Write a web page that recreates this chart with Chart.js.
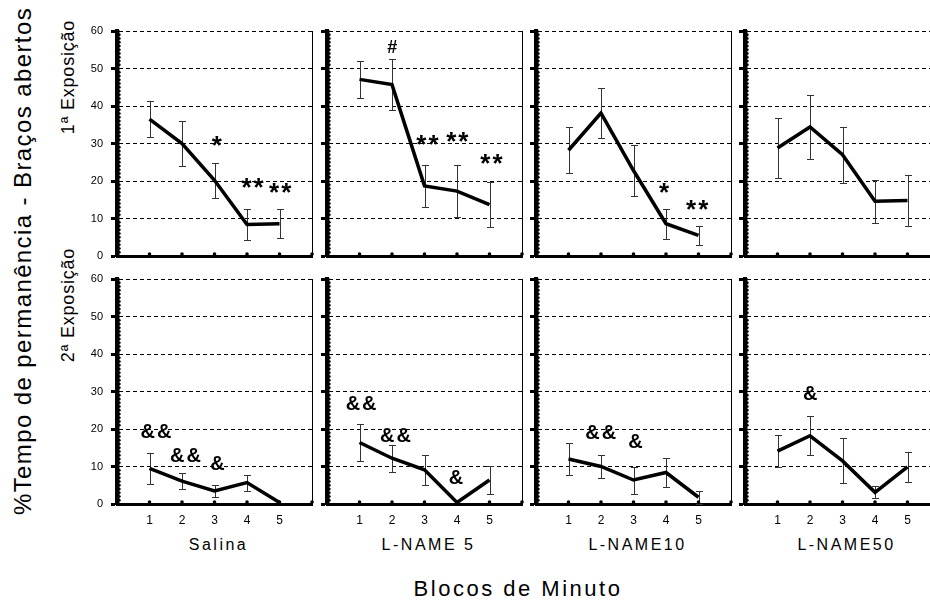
<!DOCTYPE html>
<html>
<head>
<meta charset="utf-8">
<script src="https://cdn.jsdelivr.net/npm/chart.js@4.4.1/dist/chart.umd.min.js"></script>
<style>
  html, body { margin: 0; padding: 0; background: #fff; width: 930px; height: 603px; overflow: hidden; position: relative; }
  canvas { position: absolute; }
  .lbl { position: absolute; font-family: "Liberation Sans", Arial, sans-serif; color: #000; white-space: nowrap; transform: translate(-50%, -50%); }
  .rot { transform: translate(-50%, -50%) rotate(-90deg); }
</style>
</head>
<body>
<div class="lbl rot" style="left:23px;top:261px;font-size:24px;letter-spacing:1.4px;">%Tempo de permanência - Braços abertos</div>
<div class="lbl rot" style="left:68px;top:77px;font-size:18px;letter-spacing:0.8px;">1ª Exposição</div>
<div class="lbl rot" style="left:68px;top:305px;font-size:18px;letter-spacing:0.8px;">2ª Exposição</div>
<div class="lbl" style="left:518px;top:589px;font-size:22px;letter-spacing:2.5px;">Blocos de Minuto</div>
<div id="groups"></div>

<script>
// minute blocks on the x axis
const blocks = [1, 2, 3, 4, 5];
const groups = ['Salina', 'L-NAME 5', 'L-NAME10', 'L-NAME50'];
const yTicks = [0, 10, 20, 30, 40, 50, 60];

// 1st exposure: mean and SEM per group
const exp1Mean = [
  [36.5, 30.0, 20.2, 8.4, 8.6],
  [47.1, 45.7, 18.7, 17.3, 13.7],
  [28.2, 38.1, 22.8, 8.6, 5.5],
  [28.8, 34.4, 27.0, 14.6, 14.8]
];
const exp1Sem = [
  [4.7, 6.0, 4.6, 4.2, 3.9],
  [4.9, 6.7, 5.5, 7.0, 6.0],
  [6.1, 6.7, 6.8, 4.0, 2.6],
  [8.1, 8.5, 7.5, 5.8, 6.9]
];

// 2nd exposure
const exp2Mean = [
  [9.5, 6.1, 3.5, 5.7, 0.4],
  [16.4, 12.2, 9.1, 0.4, 6.4],
  [12.0, 10.0, 6.4, 8.4, 1.8],
  [14.1, 18.2, 11.5, 3.1, 9.9]
];
const exp2Sem = [
  [4.2, 2.2, 1.5, 2.1, 0],
  [5.0, 3.6, 4.0, 0, 3.7],
  [4.3, 3.1, 3.6, 3.9, 1.8],
  [4.2, 5.2, 6.0, 1.6, 4.1]
];

// significance marks: [text, block, value]
const exp1Marks = [
  [['*', 3.1, 30.7], ['**', 4.2, 19.4], ['**', 5.05, 18.1]],
  [['#', 2.04, 55.8], ['**', 3.12, 30.9], ['**', 4.04, 31.8], ['**', 5.09, 26.0]],
  [['*', 3.97, 18.1], ['**', 4.99, 13.5]],
  []
];
const exp2Marks = [
  [['&&', 1.23, 19.5], ['&&', 2.14, 13.1], ['&', 3.12, 11.0]],
  [['&&', 1.08, 27.0], ['&&', 2.14, 18.3], ['&', 4.0, 7.3]],
  [['&&', 2.02, 19.2], ['&', 3.09, 16.8]],
  [['&', 2.04, 29.5]]
];

const FONT = '"Liberation Sans", Arial, sans-serif';
const panelLeft = [117, 327, 536, 745];
const rowTop = [31, 279];
const PW = 195, PH = 225, YW = 40, PT = 8, PR = 3;

const decor = {
  id: 'decor',
  beforeDatasetsDraw(chart, args, opts) {
    const { ctx, scales: { x, y } } = chart;
    const pts = chart.data.datasets[0].data;
    ctx.save();
    ctx.strokeStyle = '#333';
    ctx.lineWidth = 1;
    pts.forEach((p, i) => {
      const s = opts.sem[i];
      if (!s) return;
      const px = Math.round(x.getPixelForValue(p.x)) + 0.5;
      const t = Math.round(y.getPixelForValue(p.y + s)) + 0.5;
      const b = Math.round(y.getPixelForValue(Math.max(0, p.y - s))) + 0.5;
      ctx.beginPath();
      ctx.moveTo(px, t); ctx.lineTo(px, b);
      ctx.moveTo(px - 3.5, t); ctx.lineTo(px + 3.5, t);
      ctx.moveTo(px - 3.5, b); ctx.lineTo(px + 3.5, b);
      ctx.stroke();
    });
    ctx.restore();
  },
  afterDraw(chart, args, opts) {
    const { ctx, chartArea: a, scales: { x, y } } = chart;
    ctx.save();
    ctx.fillStyle = '#000';
    // thick y axis with minor dots
    ctx.fillRect(a.left - 2, a.top - 1, 4.5, a.bottom - a.top + 2);
    for (let v = 1; v < 60; v++) {
      if (v % 10 === 0) continue;
      ctx.beginPath();
      ctx.arc(a.left + 2.5, y.getPixelForValue(v), 1.2, 0, Math.PI * 2);
      ctx.fill();
    }
    // dots on the x axis
    for (let v = 1; v <= 6; v++) {
      ctx.beginPath();
      ctx.arc(x.getPixelForValue(v), a.bottom - 2, 1.8, 0, Math.PI * 2);
      ctx.fill();
    }
    // significance marks
    opts.marks.forEach(([txt, bx, vy]) => {
      const star = txt[0] === '*';
      ctx.font = 'bold ' + (star ? 26 : txt[0] === '#' ? 18 : 20) + 'px ' + FONT;
      ctx.letterSpacing = '2px';
      ctx.textAlign = 'center';
      ctx.textBaseline = 'alphabetic';
      const mt = ctx.measureText(txt);
      const cy = y.getPixelForValue(vy) + (mt.actualBoundingBoxAscent - mt.actualBoundingBoxDescent) / 2;
      ctx.fillText(txt, x.getPixelForValue(bx), cy);
    });
    ctx.restore();
  }
};

function makePanel(col, row) {
  const bottomRow = row === 1;
  const xh = bottomRow ? 32 : 4;
  const cv = document.createElement('canvas');
  cv.width = YW + PW + PR;
  cv.height = PT + PH + xh;
  cv.style.left = (panelLeft[col] - YW) + 'px';
  cv.style.top = (rowTop[row] - PT) + 'px';
  document.body.appendChild(cv);

  const mean = (row ? exp2Mean : exp1Mean)[col];
  const sem = (row ? exp2Sem : exp1Sem)[col];
  const marks = (row ? exp2Marks : exp1Marks)[col];

  new Chart(cv, {
    type: 'line',
    data: {
      datasets: [{
        data: blocks.map((b, i) => ({ x: b, y: mean[i] })),
        borderColor: '#000',
        borderWidth: 3.5,
        pointRadius: 0,
        tension: 0,
        fill: false
      }]
    },
    options: {
      responsive: false,
      animation: false,
      events: [],
      layout: { padding: { top: PT, right: PR, left: 0, bottom: 0 } },
      plugins: {
        legend: { display: false },
        tooltip: { enabled: false },
        decor: { sem: sem, marks: marks }
      },
      scales: {
        x: {
          type: 'linear',
          min: 0,
          max: 6,
          afterFit: s => { s.height = xh; s.paddingLeft = 0; s.paddingRight = 0; },
          grid: {
            color: c => (c.tick && c.tick.value === 6 && col < 3) ? '#000' : 'rgba(0,0,0,0)',
            lineWidth: 1,
            drawTicks: false
          },
          border: { color: '#000', width: 3 },
          ticks: {
            display: bottomRow,
            stepSize: 1,
            padding: 9,
            color: '#000',
            font: { family: FONT, size: 12 },
            callback: v => (v >= 1 && v <= 5) ? String(v) : ''
          }
        },
        y: {
          min: 0,
          max: 60,
          afterFit: s => { s.width = YW; s.paddingTop = 0; s.paddingBottom = 0; },
          afterBuildTicks: s => { s.ticks = yTicks.map(v => ({ value: v })); },
          grid: {
            color: c => (c.tick && c.tick.value === 0) ? 'rgba(0,0,0,0)' : '#000',
            lineWidth: 1,
            tickLength: 6,
            tickWidth: 3,
            tickColor: '#000'
          },
          border: { color: '#000', width: 4, dash: [4, 3] },
          ticks: {
            display: col === 0,
            padding: 8,
            color: '#000',
            font: { family: FONT, size: 11 }
          }
        }
      }
    },
    plugins: [decor]
  });
}

for (let r = 0; r < 2; r++) {
  for (let c = 0; c < 4; c++) makePanel(c, r);
}

// group names under the bottom row
const gbox = document.getElementById('groups');
groups.forEach((g, i) => {
  const d = document.createElement('div');
  d.className = 'lbl';
  d.style.left = (panelLeft[i] + 3 * PW / 6 + 4) + 'px';
  d.style.top = '545px';
  d.style.fontSize = '16px';
  d.style.letterSpacing = '2.5px';
  d.textContent = g;
  gbox.appendChild(d);
});
</script>
</body>
</html>
